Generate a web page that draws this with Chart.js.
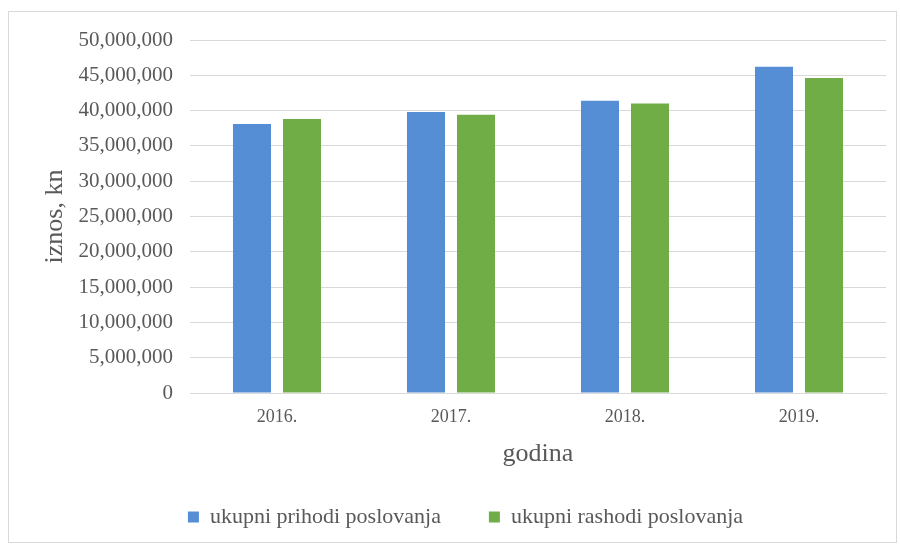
<!DOCTYPE html>
<html>
<head>
<meta charset="utf-8">
<script src="https://cdn.jsdelivr.net/npm/chart.js@4"></script>
<style>
  html, body { margin: 0; padding: 0; background: #FFFFFF; }
  #frame {
    position: absolute; left: 8px; top: 11px; width: 889px; height: 532px;
    border: 1px solid #D9D9D9; box-sizing: border-box;
  }
  #wrap { position: absolute; left: 0; top: 0; width: 900px; height: 550px; }
</style>
</head>
<body>
<div id="frame"></div>
<div id="wrap"><canvas id="chart" width="900" height="550"></canvas></div>
<script>
// Data
const years = ['2016.', '2017.', '2018.', '2019.'];
const prihodi = [38100000, 39800000, 41400000, 46200000];
const rashodi = [38800000, 39400000, 41000000, 44600000];
const yTicks = [0, 5000000, 10000000, 15000000, 20000000, 25000000,
  30000000, 35000000, 40000000, 45000000, 50000000];

const TEXT = '#595959';
const GRID = '#D9D9D9';
const SERIF = '"Liberation Serif", "DejaVu Serif", serif';

const config = {
  type: 'bar',
  data: {
    labels: years,
    datasets: [
      {
        label: 'ukupni prihodi poslovanja',
        data: prihodi,
        backgroundColor: '#558ED5',
        categoryPercentage: 0.575,
        barPercentage: 0.76,
      },
      {
        label: 'ukupni rashodi poslovanja',
        data: rashodi,
        backgroundColor: '#70AD47',
        categoryPercentage: 0.575,
        barPercentage: 0.76,
      },
    ],
  },
  options: {
    responsive: false,
    animation: false,
    layout: { padding: { left: 45, right: 14, top: 40, bottom: 12 } },
    plugins: {
      tooltip: { enabled: false },
      legend: {
        position: 'bottom',
        labels: {
          font: { family: SERIF, size: 22 },
          color: TEXT,
          boxWidth: 11,
          boxHeight: 11,
          padding: 48,
        },
      },
    },
    scales: {
      x: {
        grid: { display: false, drawTicks: false },
        border: { display: true, color: GRID, width: 1 },
        ticks: {
          font: { family: SERIF, size: 18 },
          color: TEXT,
          padding: 13,
        },
        title: {
          display: true,
          text: 'godina',
          font: { family: SERIF, size: 26, lineHeight: 0.3 },
          color: TEXT,
          padding: 0,
        },
        afterFit: (scale) => { scale.height = 65; },
      },
      y: {
        min: 0,
        max: 50000000,
        afterBuildTicks: (scale) => {
          scale.ticks = yTicks.map(v => ({ value: v }));
        },
        grid: { color: GRID, lineWidth: 1, drawTicks: false },
        border: { display: false },
        ticks: {
          font: { family: SERIF, size: 21 },
          color: TEXT,
          padding: 17,
          callback: (v) => v.toLocaleString('en-US'),
        },
        title: {
          display: true,
          text: 'iznos, kn',
          font: { family: SERIF, size: 26, lineHeight: 0.75 },
          color: TEXT,
          padding: 0,
        },
        afterFit: (scale) => { scale.width = 145; },
      },
    },
  },
};

new Chart(document.getElementById('chart').getContext('2d'), config);
</script>
</body>
</html>
